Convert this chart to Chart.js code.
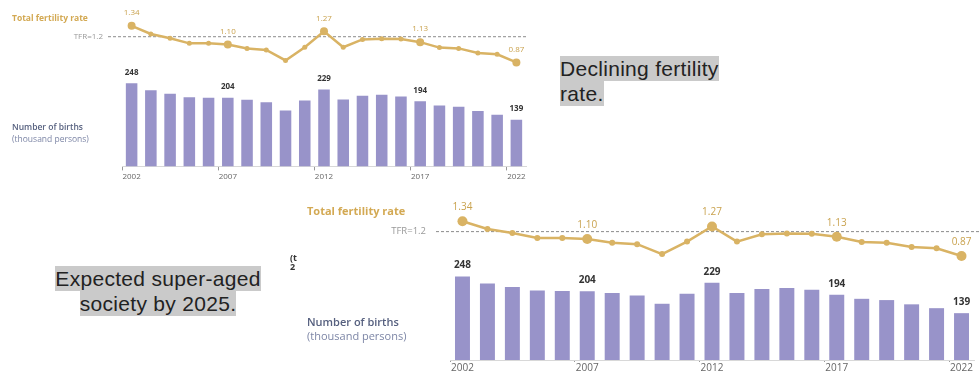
<!DOCTYPE html>
<html>
<head>
<meta charset="utf-8">
<script src="https://cdn.jsdelivr.net/npm/chart.js@4.4.0/dist/chart.umd.min.js"></script>
<style>
  html, body { margin: 0; padding: 0; background: #fff; }
  body { position: relative; width: 979px; height: 374px; overflow: hidden; font-family: "Open Sans", sans-serif; }
  canvas { position: absolute; }
  #small { left: 0; top: 0; }
  #big { left: 300px; top: 195px; }
  .lbl { position: absolute; white-space: nowrap; }
  .gold { color: #d3a953; font-weight: 700; }
  .births { color: #56607f; font-weight: 600; }
  .unit { color: #7d86a6; }
  .note { position: absolute; font-family: "Liberation Sans", Arial, sans-serif; color: #222; font-size: 21px; line-height: 25px; letter-spacing: 0.3px; }
  .note span { background: #cacaca; padding: 1px 0; -webkit-box-decoration-break: clone; box-decoration-break: clone; }
  .frag { position: absolute; font-size: 9px; font-weight: 700; color: #333; line-height: 9px; }
</style>
</head>
<body>
<canvas id="small" width="540" height="192"></canvas>
<canvas id="big" width="679" height="190"></canvas>

<div class="lbl gold" style="left:12px; top:12px; font-size:8.5px;">Total fertility rate</div>
<div class="lbl births" style="left:12px; top:121px; font-size:8.5px;">Number of births</div>
<div class="lbl unit" style="left:12px; top:133px; font-size:8.5px;">(thousand persons)</div>

<div class="lbl gold" style="left:307px; top:203px; font-size:11px;">Total fertility rate</div>
<div class="lbl births" style="left:307px; top:314px; font-size:11px;">Number of births</div>
<div class="lbl unit" style="left:307px; top:328px; font-size:11px;">(thousand persons)</div>

<div class="frag" style="left:290px; top:253px;">(t<br>2</div>

<div class="note" style="left:560px; top:56px; width:170px;"><span>Declining fertility rate.</span></div>
<div class="note" style="left:40px; top:266px; width:236px; text-align:center;"><span>Expected super-aged society by 2025.</span></div>

<script>
// Data
const years = ['2002', '2003', '2004', '2005', '2006', '2007', '2008', '2009', '2010', '2011',
               '2012', '2013', '2014', '2015', '2016', '2017', '2018', '2019', '2020', '2021', '2022'];
const births = [247.5, 227.1, 216.4, 205.9, 204.5, 204.4, 198.7, 191.3, 166.9, 196.6,
                229.3, 199.1, 210.4, 213.6, 208.4, 193.8, 181.6, 177.8, 165.2, 153.8, 139.0];
const tfr = [1.34, 1.235, 1.18, 1.115, 1.115, 1.10, 1.05, 1.03, 0.895, 1.065,
             1.27, 1.065, 1.165, 1.175, 1.17, 1.13, 1.06, 1.05, 0.99, 0.975, 0.87];
const labelIdx = [0, 5, 10, 15, 20];   // years that carry value labels + axis labels
const tfrRef = 1.2;

const gold = '#d9b364';
const purple = '#9893c9';

// dashed TFR=1.2 line and the value labels
const annot = {
  id: 'annot',
  beforeDatasetsDraw(chart, args, o) {
    const { ctx, chartArea } = chart;
    const y = chart.scales.yL.getPixelForValue(tfrRef);
    ctx.save();
    ctx.strokeStyle = '#8c8c8c';
    ctx.lineWidth = 1;
    ctx.setLineDash([3, 2]);
    ctx.beginPath();
    ctx.moveTo(chartArea.left - o.lead, y);
    ctx.lineTo(chartArea.right + o.tail, y);
    ctx.stroke();
    ctx.setLineDash([]);
    ctx.fillStyle = '#999';
    ctx.font = o.refFont + 'px "Open Sans"';
    ctx.textAlign = 'right';
    ctx.textBaseline = 'middle';
    ctx.fillText('TFR=' + tfrRef, chartArea.left - o.lead - o.gap, y);
    ctx.restore();
  },
  afterDatasetsDraw(chart, args, o) {
    const { ctx } = chart;
    const line = chart.getDatasetMeta(0).data;
    const bars = chart.getDatasetMeta(1).data;
    ctx.save();
    ctx.textAlign = 'center';
    ctx.textBaseline = 'middle';
    labelIdx.forEach(i => {
      ctx.fillStyle = '#c9a24e';
      ctx.font = o.valFont + 'px "Open Sans"';
      ctx.fillText(tfr[i].toFixed(2), line[i].x, line[i].y - o.lineOff);
      ctx.fillStyle = '#333';
      ctx.font = 'bold ' + o.valFont + 'px "Open Sans"';
      ctx.fillText(Math.round(births[i]), bars[i].x, bars[i].y - o.barOff);
    });
    ctx.restore();
  }
};

function makeChart(id, o) {
  return new Chart(document.getElementById(id), {
    data: {
      labels: years,
      datasets: [
        {
          type: 'line', label: 'Total fertility rate', data: tfr, yAxisID: 'yL',
          borderColor: gold, backgroundColor: gold, borderWidth: o.lineW,
          pointRadius: c => labelIdx.includes(c.dataIndex) ? o.bigR : o.smallR,
          pointBorderWidth: 0, tension: 0, order: 0
        },
        {
          type: 'bar', label: 'Number of births', data: births, yAxisID: 'yB',
          backgroundColor: purple, categoryPercentage: 1, barPercentage: 0.6, order: 1
        }
      ]
    },
    options: {
      responsive: false,
      animation: false,
      layout: { padding: o.pad },
      plugins: {
        legend: { display: false },
        tooltip: { enabled: false },
        annot: o.annot
      },
      scales: {
        x: {
          offset: true,
          grid: {
            offset: true, drawOnChartArea: false, tickLength: o.tickLen,
            color: c => c.index % 5 === 0 ? '#999' : 'rgba(0,0,0,0)'
          },
          border: { color: '#d8d8d8' },
          ticks: {
            autoSkip: false, maxRotation: 0, padding: o.tickPad, color: '#666',
            font: { size: o.axisFont, family: '"Open Sans"' },
            callback: (v, i) => i % 5 === 0 ? years[i] : ''
          }
        },
        yB: { display: false, position: 'left', min: 0, max: o.barMax },
        yL: { display: false, position: 'right', min: o.lineMin, max: o.lineMax }
      }
    },
    plugins: [annot]
  });
}

makeChart('small', {
  pad: { left: 122, right: 14, top: 10, bottom: 8 },
  barMax: 466, lineMin: -0.465, lineMax: 1.543,
  lineW: 2.5, bigR: 4, smallR: 2.5,
  tickLen: 4, tickPad: 2, axisFont: 8,
  annot: { lead: 14, tail: 2, gap: 5, refFont: 8, valFont: 8, lineOff: 13, barOff: 11 }
});

makeChart('big', {
  pad: { left: 150, right: 1, top: 10, bottom: 11 },
  barMax: 460, lineMin: -0.541, lineMax: 1.561,
  lineW: 2.5, bigR: 5, smallR: 3,
  tickLen: 2, tickPad: 0, axisFont: 10,
  annot: { lead: 14, tail: 10, gap: 10, refFont: 9.5, valFont: 10, lineOff: 14, barOff: 11 }
});
</script>
</body>
</html>
